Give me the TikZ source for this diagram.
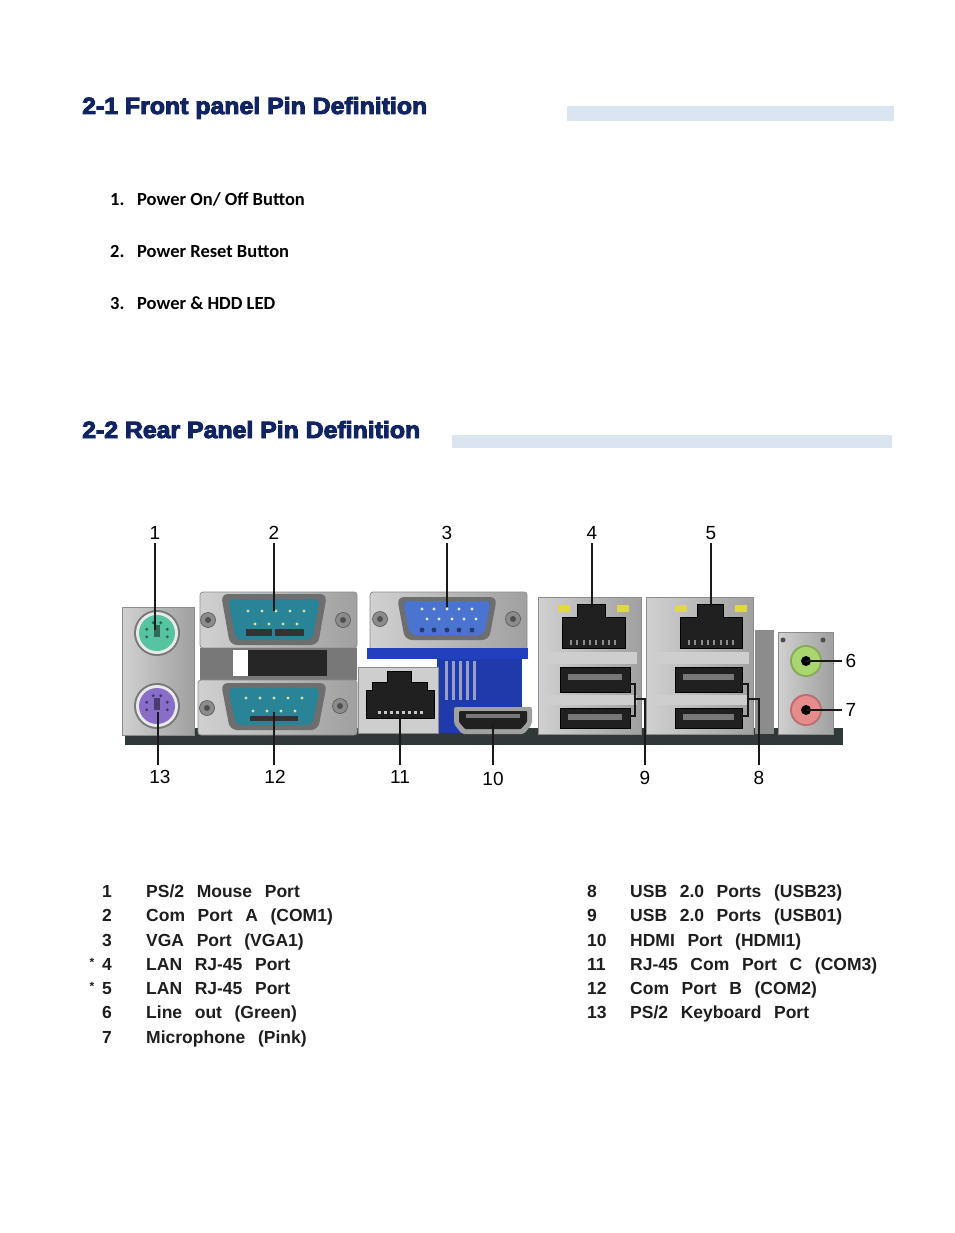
\documentclass[tikz,border=0pt]{standalone}
\usepackage{fontspec}
\usetikzlibrary{calc}
\setmainfont{Liberation Sans}
\newfontfamily\headfont[FakeBold=4]{Liberation Sans Bold}
\newfontfamily\listfont{Carlito}
\newfontfamily\tabfont[WordSpace=2.6]{Liberation Sans Bold}
\definecolor{navy}{RGB}{16,36,98}
\definecolor{barc}{RGB}{219,229,241}
\definecolor{metalc}{RGB}{200,200,200}
\definecolor{metaledge}{RGB}{140,140,140}
\definecolor{tealc}{RGB}{40,132,150}
\definecolor{vgablue}{RGB}{74,116,208}
\definecolor{brblue}{RGB}{34,64,190}
\definecolor{psgreen}{RGB}{86,196,160}
\definecolor{pspurple}{RGB}{136,110,200}
\definecolor{augreen}{RGB}{170,214,112}
\definecolor{aupink}{RGB}{230,140,140}
\definecolor{jackblack}{RGB}{32,32,32}
\definecolor{boardc}{RGB}{48,56,56}
\definecolor{pinc}{RGB}{225,220,170}
\definecolor{tabc}{RGB}{30,30,30}
\begin{document}
\begin{tikzpicture}[x=1pt,y=-1pt,
  metal/.style={left color=metalc!85!white,right color=metalc!80!black,draw=metaledge,line width=0.8pt},
  callout/.style={draw=black!90,line width=2.6pt},
  pinlabel/.style={font=\fontsize{19}{19}\selectfont,inner sep=0pt},
  tabnum/.style={font=\tabfont\fontsize{17.5}{19}\selectfont,anchor=base,inner sep=0pt,text=tabc},
  tabtext/.style={font=\tabfont\fontsize{17.5}{19}\selectfont,anchor=base west,inner sep=0pt,text=tabc},
  listtext/.style={font=\listfont\bfseries\fontsize{18.5}{20}\selectfont,anchor=base west,inner sep=0pt},
  heading/.style={anchor=base west,inner sep=0pt,text=navy},
  screw/.style={fill=metalc!70!black,draw=metaledge!60!black,line width=0.6pt},
  jack/.style={fill=jackblack,draw=black,line width=0.5pt},
]
\useasboundingbox (0,0) rectangle (954,1233);
\fill[white] (0,0) rectangle (954,1233);

% ---------- headings ----------
\node[heading] (h1) at (82,114) {\resizebox{345pt}{17pt}{\headfont 2-1 Front panel Pin Definition}};
\fill[barc] (567,106) rectangle (894,121);
\node[heading] (h2) at (82,438) {\resizebox{338pt}{17pt}{\headfont 2-2 Rear Panel Pin Definition}};
\fill[barc] (452,435) rectangle (892,448);

% ---------- front panel list ----------
\node[listtext] (l1n) at (110,206) {1.};
\node[listtext] (l1)  at (137,206) {Power On/ Off Button};
\node[listtext] (l2n) at (110,258) {2.};
\node[listtext] (l2)  at (137,258) {Power Reset Button};
\node[listtext] (l3n) at (110,309) {3.};
\node[listtext] (l3)  at (137,309) {Power \& HDD LED};

% ---------- rear panel picture ----------
\fill[boardc] (125,728) rectangle (843,745);

% PS/2 plate
\draw[metal] (122,607) rectangle (194,735);
\foreach \cy/\col in {633/psgreen,706/pspurple}{
  \fill[metalc!60!black] (157,\cy) circle (23);
  \fill[metalc!40!white] (157,\cy) circle (21);
  \fill[\col] (157,\cy) circle (18);
  \fill[\col!55!black] (154,\cy-8) rectangle (160,\cy+4);
  \foreach \a in {20,160,200,340,250,290}{
    \fill[\col!50!black] ($(157,\cy)+(\a:11)$) circle (1.6);
  }
}
\coordinate (ps1) at (155,630);
\coordinate (ps2) at (158,712);

% COM1 (top DB9)
\draw[metal,rounded corners=3] (200,592) rectangle (357,648);
\fill[metalc!60!black] (200,648) rectangle (357,680);
\fill[white] (233,650) rectangle (248,676);
\fill[black!85] (248,650) rectangle (327,676);
\draw[metal,rounded corners=3] (198,680) rectangle (357,735);
\foreach \sx/\sy in {208/620,343/620,207/708,340/706}{
  \draw[screw] (\sx,\sy) circle (7.5);
  \fill[metalc!40!black] (\sx,\sy) circle (3);
}
% top D-shell
\fill[metalc!55!black,rounded corners=7] (221,594) -- (327,594) -- (318,645) -- (230,645) -- cycle;
\fill[tealc,rounded corners=6] (228,599) -- (320,599) -- (312,640) -- (236,640) -- cycle;
\foreach \px in {248,262,276,290,304}{\fill[pinc] (\px,611) circle (1.6);}
\foreach \px in {255,269,283,297}{\fill[pinc] (\px,624) circle (1.6);}
\fill[black!80] (246,629) rectangle (272,636);
\fill[black!80] (275,629) rectangle (304,636);
\coordinate (com1) at (274,611);
% bottom D-shell
\fill[metalc!55!black,rounded corners=7] (221,683) -- (327,683) -- (318,730) -- (230,730) -- cycle;
\fill[tealc,rounded corners=6] (228,688) -- (320,688) -- (312,725) -- (236,725) -- cycle;
\foreach \px in {246,260,274,288,302}{\fill[pinc] (\px,698) circle (1.6);}
\foreach \px in {253,267,281,295}{\fill[pinc] (\px,711) circle (1.6);}
\fill[black!80] (250,716) rectangle (298,721);
\coordinate (com2) at (274,712);

% VGA
\draw[metal,rounded corners=3] (370,592) rectangle (527,650);
\foreach \sx in {380,513}{
  \draw[screw] (\sx,619) circle (7.5);
  \fill[metalc!40!black] (\sx,619) circle (3);
}
\fill[metalc!55!black,rounded corners=7] (397,597) -- (497,597) -- (489,640) -- (405,640) -- cycle;
\fill[vgablue,rounded corners=6] (403,601) -- (491,601) -- (484,635) -- (410,635) -- cycle;
\foreach \px in {422,434,447,459,472}{\fill[white!85!vgablue] (\px,609) circle (1.6);}
\foreach \px in {427,439,452,464,476}{\fill[white!85!vgablue] (\px,619) circle (1.6);}
\foreach \px in {422,434,447,459,472}{\fill[vgablue!50!black] (\px,630) circle (2.4);}
\coordinate (vga) at (447,607);

% blue bracket
\fill[brblue] (367,648) rectangle (528,659);
\fill[brblue!90!black] (437,659) rectangle (522,733);
\foreach \sx in {445,452,459,466,473}{\fill[metalc!70!brblue] (\sx,661) rectangle (\sx+3,700);}

% RJ45 (COM3)
\fill[metalc!90!white,draw=metaledge,line width=0.6pt] (358,667) rectangle (438,733);
\fill[jack] (366,718) -- (366,690) -- (372,690) -- (372,682) -- (387,682) -- (387,671) -- (411,671) -- (411,682) -- (427,682) -- (427,690) -- (434,690) -- (434,718) -- cycle;
\foreach \px in {378,384,390,396,402,408,414,420}{\fill[metalc] (\px,711) rectangle (\px+2.5,714);}
\coordinate (rj45c) at (400,714);

% HDMI
\fill[metalc!80!black,rounded corners=2] (454,707) -- (532,707) -- (532,724) -- (524,734) -- (462,734) -- (454,724) -- cycle;
\fill[jackblack,rounded corners=1] (459,711) -- (527,711) -- (527,722) -- (521,729) -- (465,729) -- (459,722) -- cycle;
\fill[metalc!60!black] (466,714) rectangle (520,718);
\coordinate (hdmi) at (493,722);

% LAN / USB stacks
\foreach \xa/\xb/\rx/\ry/\tx/\ty/\la/\lb/\ua/\ub in
  {538/641/562/625/577/605/558/617/560/630, 646/753/680/742/697/723/675/735/675/742}{
  \draw[metal] (\xa,597) rectangle (\xb,734);
  % RJ45
  \fill[jack] (\rx,648) -- (\rx,617) -- (\tx,617) -- (\tx,604) -- (\ty,604) -- (\ty,617) -- (\ry,617) -- (\ry,648) -- cycle;
  \foreach \k in {0,...,7}{\fill[metalc!70!black] (\rx+8+\k*6.3,640) rectangle (\rx+10+\k*6.3,645);}
  \fill[yellow!60!olive!70!white] (\la,605) rectangle (\la+12,612);
  \fill[yellow!60!olive!70!white] (\lb,605) rectangle (\lb+12,612);
  % USB
  \fill[metalc!90!white] (\xa+4,652) rectangle (\xb-4,664);
  \fill[jack] (\ua,667) rectangle (\ub,692);
  \fill[metalc!60!black] (\ua+8,674) rectangle (\ub-8,680);
  \fill[metalc!90!white] (\xa+4,695) rectangle (\xb-4,705);
  \fill[jack] (\ua,708) rectangle (\ub,728);
  \fill[metalc!60!black] (\ua+8,714) rectangle (\ub-8,720);
}
\coordinate (lan1) at (592,607);
\coordinate (lan2) at (711,607);

% audio
\fill[metalc!70!black] (755,630) rectangle (774,734);
\draw[metal] (778,632) rectangle (833,734);
\fill[black!70] (783,640) circle (2.5);
\fill[black!70] (823,640) circle (2.5);
\foreach \cy/\col/\nm in {661/augreen/au6,710/aupink/au7}{
  \fill[\col!80!black] (806,\cy) circle (16);
  \fill[\col] (806,\cy) circle (14);
  \fill[black] (806,\cy) circle (5);
  \coordinate (\nm) at (806,\cy);
}

% ---------- callout labels ----------
\node[pinlabel] (n1)  at (155,533) {1};
\node[pinlabel] (n2)  at (274,533) {2};
\node[pinlabel] (n3)  at (447,533) {3};
\node[pinlabel] (n4)  at (592,533) {4};
\node[pinlabel] (n5)  at (711,533) {5};
\node[pinlabel] (n6)  at (851,661) {6};
\node[pinlabel] (n7)  at (851,710) {7};
\node[pinlabel] (n8)  at (759,778) {8};
\node[pinlabel] (n9)  at (645,778) {9};
\node[pinlabel] (n10) at (493,779) {10};
\node[pinlabel] (n11) at (400,777) {11};
\node[pinlabel] (n12) at (275,777) {12};
\node[pinlabel] (n13) at (160,777) {13};

\draw[callout] ([yshift=-3pt]n1.south) -- (ps1);
\draw[callout] ([yshift=-3pt]n2.south) -- (com1);
\draw[callout] ([yshift=-3pt]n3.south) -- (vga);
\draw[callout] ([yshift=-3pt]n4.south) -- (lan1);
\draw[callout] ([yshift=-3pt]n5.south) -- (lan2);
\coordinate (c13) at (158,765);
\coordinate (c12) at (274,765);
\coordinate (c11) at (400,765);
\coordinate (c10) at (493,765);
\draw[callout] (ps2) -- (c13);
\draw[callout] (com2) -- (c12);
\draw[callout] (rj45c) -- (c11);
\draw[callout] (hdmi) -- (c10);
% USB brackets
\coordinate (u9a) at (630,684);
\coordinate (u9b) at (630,716);
\coordinate (u9m) at (635,699);
\coordinate (c9) at (645,765);
\draw[callout,line width=2.2pt] (u9a) -| (u9m) |- (u9b);
\draw[callout,line width=2.2pt] (u9m) -| (c9);
\coordinate (u8a) at (741,684);
\coordinate (u8b) at (741,716);
\coordinate (u8m) at (748,699);
\coordinate (c8) at (759,765);
\draw[callout,line width=2.2pt] (u8a) -| (u8m) |- (u8b);
\draw[callout,line width=2.2pt] (u8m) -| (c8);
\draw[callout] (au6) -- ([xshift=-4pt]n6.west);
\draw[callout] (au7) -- ([xshift=-4pt]n7.west);

% ---------- table ----------
\foreach \n/\t/\y/\nm in {1/PS\slash 2 Mouse Port/897/t1, 2/Com Port A (COM1)/921/t2, 3/VGA Port (VGA1)/946/t3,
  4/LAN RJ-45 Port/970/t4, 5/LAN RJ-45 Port/994/t5, 6/Line out (Green)/1018/t6, 7/Microphone (Pink)/1043/t7}{
  \node[tabnum] (\nm n) at (107,\y) {\n};
  \node[tabtext] (\nm) at (146,\y) {\t};
}
\node[tabnum,font=\tabfont\fontsize{12}{12}\selectfont] (s4) at (92,966) {*};
\node[tabnum,font=\tabfont\fontsize{12}{12}\selectfont] (s5) at (92,990) {*};
\foreach \n/\t/\y/\nm in {8/USB 2.0 Ports (USB23)/897/t8, 9/USB 2.0 Ports (USB01)/921/t9, 10/HDMI Port (HDMI1)/946/t10,
  11/RJ-45 Com Port C (COM3)/970/t11, 12/Com Port B (COM2)/994/t12, 13/PS\slash 2 Keyboard Port/1018/t13}{
  \node[tabtext] (\nm n) at (587,\y) {\n};
  \node[tabtext] (\nm) at (630,\y) {\t};
}
\end{tikzpicture}
\end{document}
